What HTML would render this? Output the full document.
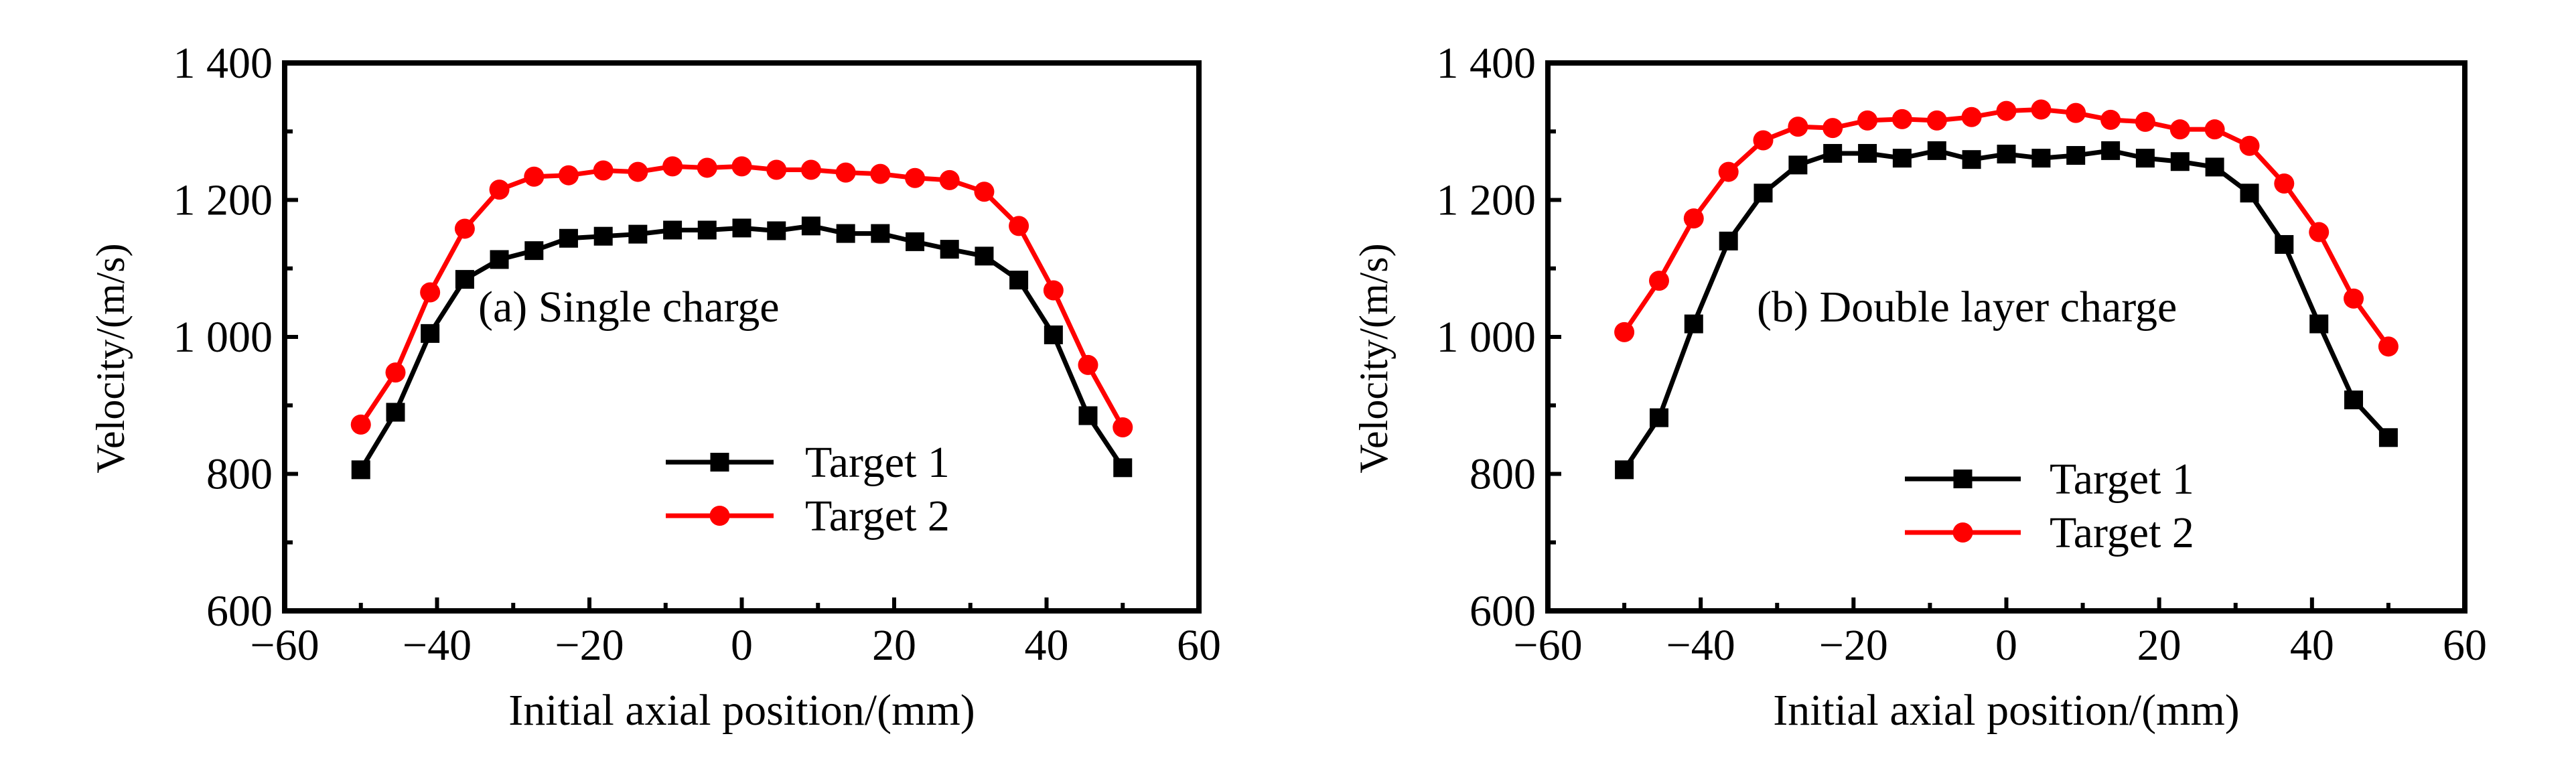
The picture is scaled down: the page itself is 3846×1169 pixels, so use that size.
<!DOCTYPE html>
<html><head><meta charset="utf-8"><style>
html,body{margin:0;padding:0;background:#fff;}
svg{display:block;}
text{font-family:"Liberation Serif",serif;fill:#000;}
</style></head><body>
<svg id="chart" width="3846" height="1169" viewBox="0 0 3846 1169" xmlns="http://www.w3.org/2000/svg"></svg>
<script>
const xCategories = [-50,-45.45,-40.91,-36.36,-31.82,-27.27,-22.73,-18.18,-13.64,-9.09,-4.55,0,4.55,9.09,13.64,18.18,22.73,27.27,31.82,36.36,40.91,45.45,50];
const singleTarget1 = [806,890,1005,1084,1113,1126,1144,1147,1150,1156,1156,1159,1155,1162,1151,1151,1139,1128,1118,1083,1003,885,809];
const singleTarget2 = [872,948,1065,1158,1215,1234,1236,1243,1241,1249,1247,1249,1244,1244,1240,1238,1232,1229,1212,1162,1068,959,868];
const doubleTarget1 = [806,882,1019,1140,1210,1251,1268,1268,1261,1272,1259,1267,1261,1265,1272,1261,1256,1248,1210,1135,1019,908,853];
const doubleTarget2 = [1007,1082,1173,1241,1287,1307,1305,1316,1318,1316,1321,1330,1332,1327,1317,1314,1303,1303,1279,1224,1153,1056,986];
const xTickLabels = ["\u221260","\u221240","\u221220","0","20","40","60"];
const yTickLabels = ["600","800","1 000","1 200","1 400"];
const xTickValues = [-60,-40,-20,0,20,40,60];
const yTickValues = [600,800,1000,1200,1400];

const NS = "http://www.w3.org/2000/svg";
const svg = document.getElementById('chart');
function mk(tag, attrs, parent){
  const e = document.createElementNS(NS, tag);
  for (const k in attrs) e.setAttribute(k, attrs[k]);
  (parent||svg).appendChild(e);
  return e;
}

function drawPanel(id, left, right, s1, s2, label, labelX, legX1, legX2, legY1, legTextX){
  const top = 94, bottom = 912;
  const g = mk('g', {});
  
  
  const sx = v => left + (v + 60) / 120 * (right - left);
  const sy = v => bottom - (v - 600) / 800 * (bottom - top);

  for (let v = -60; v <= 60; v += 10) {
    const major = v % 20 === 0;
    const t = mk('line', {x1: sx(v), x2: sx(v), y1: bottom, y2: bottom - (major ? 20 : 12), stroke: '#000', 'stroke-width': 6}, g);
    
    
  }
  for (let v = 600; v <= 1400; v += 100) {
    const major = v % 200 === 0;
    const t = mk('line', {x1: left, x2: left + (major ? 20 : 12), y1: sy(v), y2: sy(v), stroke: '#000', 'stroke-width': 6}, g);
    
    
  }
  const frame = mk('rect', {x: left, y: top, width: right - left, height: bottom - top, fill: 'none', stroke: '#000', 'stroke-width': 8}, g);
  
  

  xTickValues.forEach((v, i) => {
    const t = mk('text', {x: sx(v), y: 985, 'font-size': 66, 'text-anchor': 'middle'}, g);
    t.textContent = xTickLabels[i];
    
    
  });
  yTickValues.forEach((v, i) => {
    const t = mk('text', {x: left - 18, y: sy(v) + 22, 'font-size': 66, 'text-anchor': 'end'}, g);
    t.textContent = yTickLabels[i];
    
    
  });
  const xt = mk('text', {x: (left + right) / 2, y: 1082, 'font-size': 66, 'text-anchor': 'middle'}, g);
  xt.textContent = 'Initial axial position/(mm)';
  
  
  const yx = left - 240;
  const yt = mk('text', {x: yx, y: 535, 'font-size': 60, 'text-anchor': 'middle', transform: `rotate(-90 ${yx} 535)`}, g);
  yt.textContent = 'Velocity/(m/s)';
  
  

  const an = mk('text', {x: labelX, y: 480, 'font-size': 66}, g);
  an.textContent = label;
  
  

  function series(vals, color, shape, name){
    const sg = mk('g', {}, g);
    
    
    const pts = vals.map((v, i) => sx(xCategories[i]) + ',' + sy(v)).join(' ');
    const pl = mk('polyline', {points: pts, fill: 'none', stroke: color, 'stroke-width': 7}, sg);
    
    
    vals.forEach((v, i) => {
      let m;
      if (shape === 'square') m = mk('rect', {x: sx(xCategories[i]) - 14, y: sy(v) - 14, width: 28, height: 28, fill: color}, sg);
      else m = mk('circle', {cx: sx(xCategories[i]), cy: sy(v), r: 15, fill: color}, sg);
      
      
    });
  }
  series(s1, '#000', 'square', 'series-target-1');
  series(s2, '#f00', 'circle', 'series-target-2');

  [[legY1, '#000', 'square', 'Target 1'], [legY1 + 80, '#f00', 'circle', 'Target 2']].forEach(([y, c, sh, txt]) => {
    const lg = mk('g', {}, g);
    
    
    mk('line', {x1: legX1, x2: legX2, y1: y, y2: y, stroke: c, 'stroke-width': 7}, lg);
    const mx = (legX1 + legX2) / 2;
    if (sh === 'square') mk('rect', {x: mx - 14, y: y - 14, width: 28, height: 28, fill: c}, lg);
    else mk('circle', {cx: mx, cy: y, r: 15, fill: c}, lg);
    const t = mk('text', {x: legTextX, y: y + 22, 'font-size': 66}, lg);
    t.textContent = txt;
  });
}

drawPanel('panel-single-charge', 425, 1790, singleTarget1, singleTarget2, '(a) Single charge', 714, 994, 1155, 690, 1202);
drawPanel('panel-double-layer-charge', 2311, 3680, doubleTarget1, doubleTarget2, '(b) Double layer charge', 2623, 2844, 3017, 715, 3060);
</script>
</body></html>
